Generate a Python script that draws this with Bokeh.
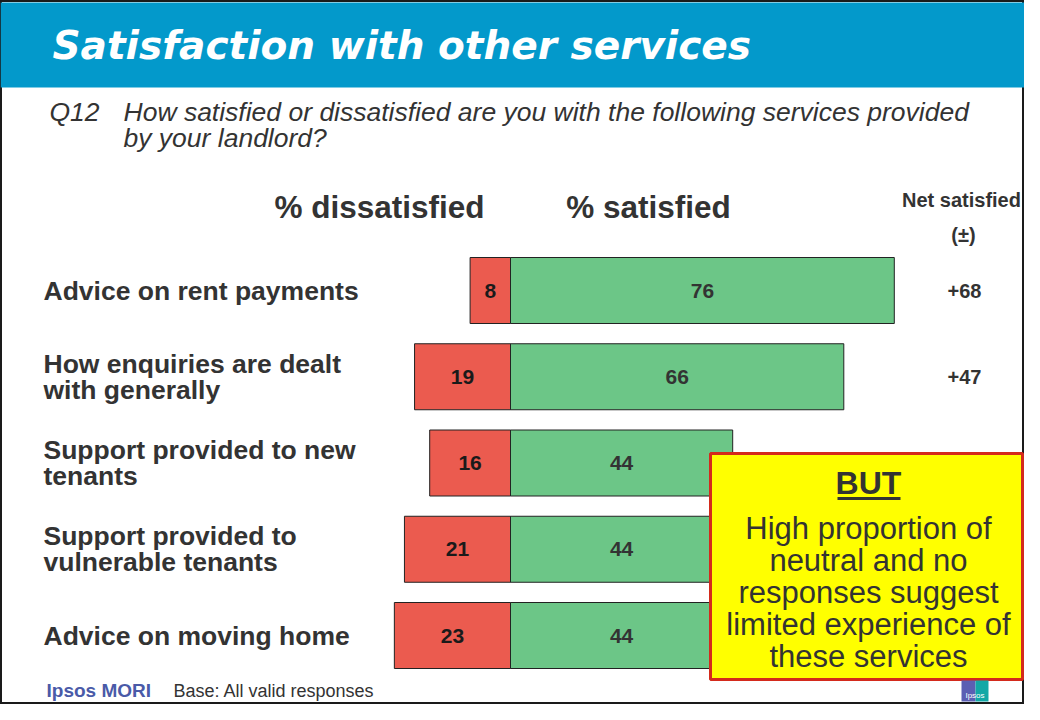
from bokeh.plotting import figure
from bokeh.models import ColumnDataSource, Range1d, Label
from bokeh.core.properties import value
from bokeh.embed import file_html
from bokeh.resources import INLINE

# ---------------- data ----------------
categories = [
    "Advice on rent payments",
    "How enquiries are dealt\nwith generally",
    "Support provided to new\ntenants",
    "Support provided to\nvulnerable tenants",
    "Advice on moving home",
]
dissatisfied = [8, 19, 16, 21, 23]
satisfied = [76, 66, 44, 44, 44]
net_shown = [True, True, False, False, False]   # rows not hidden by the call-out

title_text = "Satisfaction with other services"
question_no = "Q12"
question_lines = ["How satisfied or dissatisfied are you with the following services provided",
                  "by your landlord?"]
callout_head = "BUT"
callout_body = "High proportion of\nneutral and no\nresponses suggest\nlimited experience of\nthese services"

# ------------- layout helpers (reference-pixel -> data) -------------
X0, SC = 510.0, 5.05      # zero line and px per percent
Y0, DY = 290.0, 86.25     # first row centre, row spacing
W, H = 1024, 704


def px(xr):
    return (xr - X0) / SC


def py(yr):
    return (yr - Y0) / DY


TXT = "#333333"
FONTS = "Liberation Sans"
FONT = value(FONTS)

p = figure(width=W, height=H,
           x_range=Range1d(px(0), px(W)),
           y_range=Range1d(py(H), py(0)),
           output_backend="svg", toolbar_location=None,
           x_axis_location=None, y_axis_location=None, min_border=0)
p.grid.visible = False
p.outline_line_color = "#1a1a1a"
p.outline_line_width = 3
p.background_fill_color = "white"
p.border_fill_color = "white"

# header band
p.quad(left=[px(0)], right=[px(W)], top=[py(2)], bottom=[py(87)],
       fill_color="#0399CB", line_color=None)
p.add_layout(Label(x=px(52), y=py(45), text=title_text, text_color="white",
                   text_font="DejaVu Sans", text_font_style="bold italic",
                   text_font_size="39px", text_baseline="middle", text_align="left"))

# question
p.add_layout(Label(x=px(49), y=py(111), text=question_no, text_color=TXT,
                   text_font=FONTS, text_font_style="italic", text_font_size="26.5px",
                   text_baseline="middle"))
for i, ln in enumerate(question_lines):
    p.add_layout(Label(x=px(123), y=py(111 + 26 * i), text=ln, text_color=TXT,
                       text_font=FONTS, text_font_style="italic", text_font_size="26.5px",
                       text_baseline="middle"))

# column headers
p.add_layout(Label(x=px(379), y=py(206), text="% dissatisfied", text_color=TXT,
                   text_font=FONTS, text_font_style="bold", text_font_size="31.5px",
                   text_baseline="middle", text_align="center"))
p.add_layout(Label(x=px(648), y=py(206), text="% satisfied", text_color=TXT,
                   text_font=FONTS, text_font_style="bold", text_font_size="31.5px",
                   text_baseline="middle", text_align="center"))
p.add_layout(Label(x=px(961), y=py(199), text="Net satisfied", text_color=TXT,
                   text_font=FONTS, text_font_style="bold", text_font_size="20px",
                   text_baseline="middle", text_align="center"))
p.add_layout(Label(x=px(963), y=py(234), text="(\u00b1)", text_color=TXT,
                   text_font=FONTS, text_font_style="bold", text_font_size="20px",
                   text_baseline="middle", text_align="center"))

# bars
rows = list(range(len(categories)))
src = ColumnDataSource(dict(
    y=rows,
    dis_left=[-d for d in dissatisfied],
    sat=satisfied,
    dis_mid=[-d / 2 for d in dissatisfied],
    sat_mid=[s / 2 for s in satisfied],
    dis_lbl=[str(d) for d in dissatisfied],
    sat_lbl=[str(s) for s in satisfied],
    cat=categories,
))
bar_h = 66 / DY
p.hbar(y="y", left="dis_left", right=0, height=bar_h, source=src,
       fill_color="#EB5B4F", line_color="#222222", line_width=1)
p.hbar(y="y", left=0, right="sat", height=bar_h, source=src,
       fill_color="#6CC687", line_color="#222222", line_width=1)
p.text(x="dis_mid", y="y", text="dis_lbl", source=src, text_font=FONT,
       text_font_style="bold", text_font_size="21px", text_color="#1a1a1a",
       text_align="center", text_baseline="middle")
p.text(x="sat_mid", y="y", text="sat_lbl", source=src, text_font=FONT,
       text_font_style="bold", text_font_size="21px", text_color=TXT,
       text_align="center", text_baseline="middle")

# category labels
p.text(x=px(43), y="y", text="cat", source=src, text_font=FONT,
       text_font_style="bold", text_font_size="26.5px", text_color=TXT,
       text_align="left", text_baseline="middle", text_line_height=0.87)

# net satisfied
net_src = ColumnDataSource(dict(
    y=[r for r, s in zip(rows, net_shown) if s],
    lbl=["%+d" % (s - d) for s, d, sh in zip(satisfied, dissatisfied, net_shown) if sh],
))
p.text(x=px(964), y="y", text="lbl", source=net_src, text_font=FONT,
       text_font_style="bold", text_font_size="20px", text_color=TXT,
       text_align="center", text_baseline="middle")

# call-out box
p.quad(left=[px(710)], right=[px(1022)], top=[py(453)], bottom=[py(679)],
       fill_color="#FFFF00", line_color="#D42A1C", line_width=3)
p.add_layout(Label(x=px(868), y=py(482), text=callout_head, text_color=TXT,
                   text_font=FONTS, text_font_style="bold", text_font_size="32px",
                   text_baseline="middle", text_align="center"))
p.segment(x0=[px(837)], y0=[py(498)], x1=[px(900)], y1=[py(498)],
          line_color=TXT, line_width=3)
p.text(x=[px(868)], y=[py(592)], text=[callout_body], text_font=FONT,
       text_font_size="31px", text_color=TXT, text_align="center",
       text_baseline="middle", text_line_height=0.92)

# footer
p.add_layout(Label(x=px(46), y=py(690), text="Ipsos MORI", text_color="#4A5AA8",
                   text_font=FONTS, text_font_style="bold", text_font_size="19px",
                   text_baseline="middle"))
p.add_layout(Label(x=px(173), y=py(690), text="Base: All valid responses", text_color=TXT,
                   text_font=FONTS, text_font_size="18px", text_baseline="middle"))
# logo
p.quad(left=[px(961)], right=[px(975)], top=[py(680)], bottom=[py(701)],
       fill_color="#5B5FB3", line_color=None)
p.quad(left=[px(975)], right=[px(988)], top=[py(680)], bottom=[py(701)],
       fill_color="#12A8A6", line_color=None)
p.add_layout(Label(x=px(974.5), y=py(695), text="Ipsos", text_color="white",
                   text_font=FONTS, text_font_size="8px", text_baseline="middle",
                   text_align="center"))

open("out.html", "w").write(file_html(p, INLINE))
